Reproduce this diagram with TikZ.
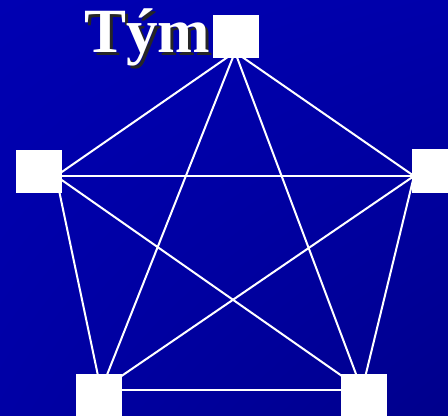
\documentclass[tikz,border=0pt]{standalone}
\usepackage{fontspec}
\usetikzlibrary{shadings}
\setmainfont{Liberation Serif}
\definecolor{bgUL}{RGB}{0,0,178}
\definecolor{bgUR}{RGB}{0,0,170}
\definecolor{bgLL}{RGB}{0,0,165}
\definecolor{bgLR}{RGB}{0,0,140}
\begin{document}
\begin{tikzpicture}[x=0.75pt,y=-0.75pt,
  sq/.style={fill=white,draw=none,inner sep=0pt,minimum width=34.5pt,minimum height=32.5pt},
  edge/.style={draw=white,line width=1.5pt},
  title/.style={anchor=base west,inner sep=0pt,font=\fontsize{47.25pt}{50pt}\selectfont\bfseries}]
\useasboundingbox (0,0) rectangle (448,415);
\clip (0,0) rectangle (448,415);
\shade[upper left=bgUL,upper right=bgUR,lower left=bgLL,lower right=bgLR]
  (0,0) rectangle (448,415);
% title with shadow
\node[title,text=black!85] (tshadow) at (87,55) {Tým};
\node[title,text=white] (title) at (84,52) {Tým};
% hub points
\coordinate (pT) at (235,52);
\coordinate (pL) at (56,176);
\coordinate (pR) at (414,176);
\coordinate (pBL) at (101,390);
\coordinate (pBR) at (362,390);
% edges
\draw[edge] (pT) -- (pL);
\draw[edge] (pT) -- (pR);
\draw[edge] (pT) -- (pBL);
\draw[edge] (pT) -- (pBR);
\draw[edge] (pL) -- (pR);
\draw[edge] (pL) -- (pBL);
\draw[edge] (pL) -- (pBR);
\draw[edge] (pR) -- (pBL);
\draw[edge] (pR) -- (pBR);
\draw[edge] (pBL) -- (pBR);
% squares
\node[sq] (top) at (236,36.5) {};
\node[sq] (left) at (38.5,171.5) {};
\node[sq] (right) at (434.5,171) {};
\node[sq] (bleft) at (99,395.5) {};
\node[sq] (bright) at (363.5,395.5) {};
\end{tikzpicture}
\end{document}
